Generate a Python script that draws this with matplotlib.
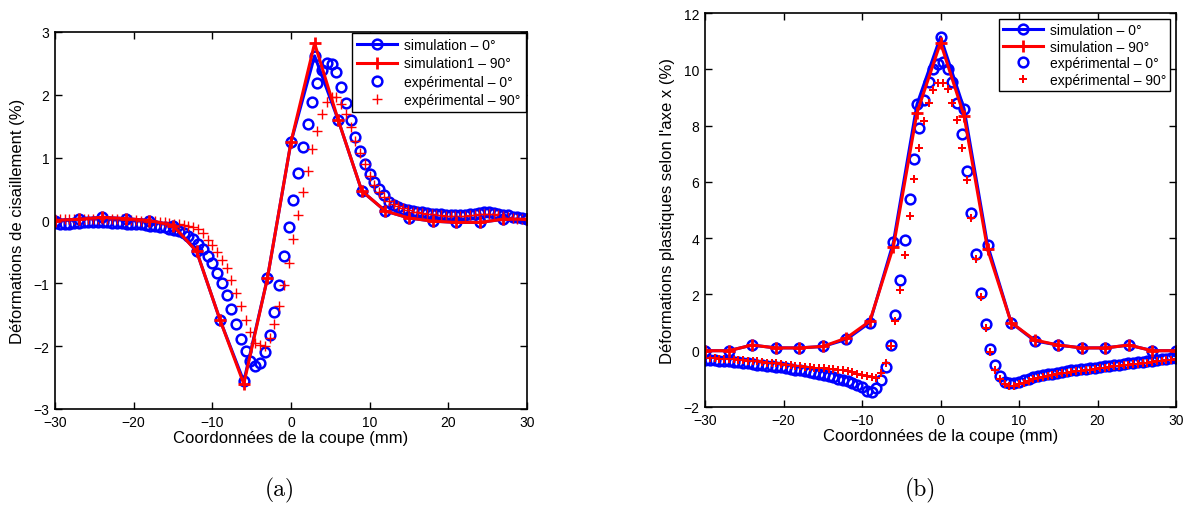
import numpy as np
import matplotlib
matplotlib.use("Agg")
import matplotlib.pyplot as plt

plt.rcParams['font.family'] = ['Liberation Sans', 'DejaVu Sans']

# grille de simulation (pas de 3 mm)
x_sim = [-30, -27, -24, -21, -18, -15, -12, -9, -6, -3, 0, 3, 6, 9, 12, 15, 18, 21, 24, 27, 30]
# grille expérimentale (100 points de -30 à 30 mm)
x_exp = np.linspace(-30, 30, 100)

# (a) cisaillement
cis_sim0 = [0.0, 0.02, 0.05, 0.03, 0.0, -0.08, -0.49, -1.59, -2.56, -0.92, 1.25, 2.62,
            1.6, 0.47, 0.15, 0.04, -0.01, -0.03, -0.03, 0.02, 0.02]
cis_sim90 = [0.0, 0.02, 0.05, 0.03, 0.0, -0.08, -0.49, -1.59, -2.6, -0.92, 1.25, 2.82,
             1.6, 0.47, 0.15, 0.04, -0.01, -0.03, -0.03, 0.02, 0.02]
cis_exp0 = [-0.04, -0.05, -0.05, -0.05, -0.04, -0.04, -0.03, -0.03, -0.03, -0.03,
            -0.03, -0.03, -0.04, -0.04, -0.04, -0.05, -0.05, -0.06, -0.06, -0.07,
            -0.08, -0.09, -0.10, -0.11, -0.13, -0.15, -0.17, -0.20, -0.24, -0.29,
            -0.37, -0.45, -0.56, -0.68, -0.83, -1.00, -1.19, -1.41, -1.64, -1.89,
            -2.08, -2.24, -2.31, -2.26, -2.10, -1.83, -1.46, -1.03, -0.57, -0.11,
            0.33, 0.76, 1.17, 1.54, 1.89, 2.19, 2.40, 2.50, 2.49, 2.36,
            2.13, 1.87, 1.60, 1.33, 1.10, 0.90, 0.74, 0.61, 0.50, 0.40,
            0.30, 0.25, 0.22, 0.19, 0.16, 0.15, 0.14, 0.13, 0.12, 0.11,
            0.10, 0.10, 0.09, 0.09, 0.09, 0.09, 0.09, 0.10, 0.11, 0.12,
            0.13, 0.13, 0.12, 0.11, 0.09, 0.08, 0.06, 0.05, 0.04, 0.03]
cis_exp90 = [0.02, 0.02, 0.02, 0.02, 0.02, 0.02, 0.02, 0.02, 0.02, 0.02,
             0.02, 0.02, 0.02, 0.02, 0.02, 0.02, 0.01, 0.01, 0.00, 0.00,
             -0.01, -0.01, -0.02, -0.03, -0.04, -0.05, -0.06, -0.07, -0.09, -0.10,
             -0.13, -0.20, -0.31, -0.39, -0.50, -0.63, -0.76, -0.94, -1.16, -1.36,
             -1.58, -1.78, -1.95, -1.98, -2.00, -1.87, -1.65, -1.36, -1.03, -0.68,
             -0.30, 0.08, 0.45, 0.78, 1.13, 1.43, 1.70, 1.89, 1.97, 1.97,
             1.86, 1.70, 1.49, 1.27, 1.08, 0.90, 0.71, 0.57, 0.46, 0.38,
             0.31, 0.27, 0.23, 0.20, 0.17, 0.14, 0.13, 0.12, 0.11, 0.10,
             0.09, 0.08, 0.07, 0.07, 0.07, 0.07, 0.07, 0.08, 0.09, 0.10,
             0.11, 0.11, 0.10, 0.09, 0.07, 0.06, 0.04, 0.03, 0.02, 0.01]

# (b) déformations plastiques selon x
pla_sim0 = [0.0, 0.0, 0.2, 0.1, 0.1, 0.15, 0.4, 1.0, 3.85, 8.75, 11.15, 8.6,
            3.75, 1.0, 0.35, 0.2, 0.1, 0.1, 0.2, 0.0, 0.0]
pla_sim90 = [0.0, 0.0, 0.2, 0.1, 0.1, 0.15, 0.45, 1.05, 3.7, 8.45, 10.95, 8.35,
             3.6, 1.0, 0.38, 0.2, 0.1, 0.1, 0.2, 0.0, 0.0]
pla_exp0 = [-0.32, -0.33, -0.34, -0.35, -0.36, -0.38, -0.40, -0.41, -0.43, -0.45,
            -0.47, -0.49, -0.51, -0.53, -0.55, -0.57, -0.59, -0.61, -0.64, -0.67,
            -0.70, -0.73, -0.77, -0.80, -0.84, -0.88, -0.91, -0.95, -0.99, -1.04,
            -1.09, -1.15, -1.22, -1.30, -1.42, -1.45, -1.32, -1.03, -0.57, 0.20,
            1.27, 2.50, 3.95, 5.40, 6.80, 7.90, 8.90, 9.55, 10.00, 10.20,
            10.25, 10.00, 9.55, 8.80, 7.70, 6.40, 4.90, 3.45, 2.05, 0.95,
            0.07, -0.50, -0.90, -1.10, -1.15, -1.15, -1.10, -1.05, -1.00, -0.95,
            -0.91, -0.87, -0.84, -0.81, -0.78, -0.75, -0.73, -0.70, -0.68, -0.66,
            -0.64, -0.62, -0.60, -0.57, -0.55, -0.53, -0.51, -0.49, -0.47, -0.45,
            -0.43, -0.41, -0.39, -0.37, -0.35, -0.33, -0.31, -0.29, -0.27, -0.25]
pla_exp90 = [-0.25, -0.26, -0.27, -0.28, -0.29, -0.30, -0.31, -0.32, -0.34, -0.35,
             -0.37, -0.38, -0.40, -0.42, -0.43, -0.45, -0.47, -0.49, -0.51, -0.53,
             -0.55, -0.57, -0.59, -0.61, -0.62, -0.63, -0.64, -0.66, -0.68, -0.70,
             -0.73, -0.77, -0.81, -0.86, -0.91, -0.95, -0.96, -0.80, -0.42, 0.15,
             1.05, 2.15, 3.40, 4.80, 6.10, 7.20, 8.15, 8.80, 9.25, 9.50,
             9.50, 9.30, 8.80, 8.20, 7.20, 6.05, 4.70, 3.25, 1.90, 0.80,
             -0.05, -0.67, -1.00, -1.20, -1.25, -1.25, -1.20, -1.13, -1.07, -1.02,
             -0.96, -0.92, -0.89, -0.86, -0.83, -0.80, -0.78, -0.75, -0.73, -0.71,
             -0.69, -0.67, -0.65, -0.62, -0.60, -0.58, -0.56, -0.54, -0.52, -0.50,
             -0.48, -0.46, -0.44, -0.42, -0.40, -0.38, -0.36, -0.34, -0.32, -0.30]

fig = plt.figure(figsize=(11.88, 5.06), dpi=100)

def style_axes(ax):
    ax.tick_params(direction='in', top=True, right=True, labelsize=10, length=5, width=1, pad=4)
    for s in ax.spines.values():
        s.set_linewidth(1.2)

# ---- (a)
ax1 = fig.add_axes([55 / 1188, 1 - 410 / 506, 472 / 1188, 377 / 506])
e0, = ax1.plot(x_exp, cis_exp0, 'o', color='blue', mfc='none', ms=7, mew=1.8, ls='none')
e90, = ax1.plot(x_exp, cis_exp90, '+', color='red', ms=7, mew=1.0, ls='none')
s0, = ax1.plot(x_sim, cis_sim0, '-o', color='blue', mfc='none', ms=7, mew=1.8, lw=2.2)
s90, = ax1.plot(x_sim, cis_sim90, '-+', color='red', ms=8, mew=2.0, lw=2.2)
ax1.set_xlim(-30, 30)
ax1.set_ylim(-3, 3)
ax1.set_xticks(range(-30, 31, 10))
ax1.set_yticks(range(-3, 4))
style_axes(ax1)
ax1.set_xlabel("Coordonnées de la coupe (mm)", fontsize=12, labelpad=1)
ax1.set_ylabel("Déformations de cisaillement (%)", fontsize=12, labelpad=6)
leg1 = ax1.legend([s0, s90, e0, e90],
                  ["simulation – 0°", "simulation1 – 90°", "expérimental – 0°", "expérimental – 90°"],
                  loc='upper right', fontsize=10, fancybox=False, edgecolor='black',
                  borderaxespad=0.1, handlelength=2.9, labelspacing=0.3, borderpad=0.35,
                  handletextpad=0.5, framealpha=1)
leg1.get_frame().set_linewidth(1.0)

# ---- (b)
ax2 = fig.add_axes([705 / 1188, 1 - 408 / 506, 471 / 1188, 394 / 506])
f0, = ax2.plot(x_exp, pla_exp0, 'o', color='blue', mfc='none', ms=7, mew=1.8, ls='none')
f90, = ax2.plot(x_exp, pla_exp90, 'P', color='red', ms=6, mew=0, ls='none')
t0, = ax2.plot(x_sim, pla_sim0, '-o', color='blue', mfc='none', ms=7, mew=1.8, lw=2.2)
t90, = ax2.plot(x_sim, pla_sim90, '-+', color='red', ms=8, mew=2.0, lw=2.2)
ax2.set_xlim(-30, 30)
ax2.set_ylim(-2, 12)
ax2.set_xticks(range(-30, 31, 10))
ax2.set_yticks(range(-2, 13, 2))
style_axes(ax2)
ax2.set_xlabel("Coordonnées de la coupe (mm)", fontsize=12, labelpad=1)
ax2.set_ylabel("Déformations plastiques selon l'axe x (%)", fontsize=12, labelpad=6)
leg2 = ax2.legend([t0, t90, f0, f90],
                  ["simulation – 0°", "simulation – 90°", "expérimental – 0°", "expérimental – 90°"],
                  loc='upper right', fontsize=10, fancybox=False, edgecolor='black',
                  borderaxespad=0.4, handlelength=2.9, labelspacing=0.2, borderpad=0.3,
                  handletextpad=0.5, framealpha=1)
leg2.get_frame().set_linewidth(1.0)

fig.text(280 / 1188, 1 - 490 / 506, "(a)", fontsize=17, family='cmr10', ha='center', va='center')
fig.text(920 / 1188, 1 - 490 / 506, "(b)", fontsize=17, family='cmr10', ha='center', va='center')

fig.savefig("out.png", dpi=100)
